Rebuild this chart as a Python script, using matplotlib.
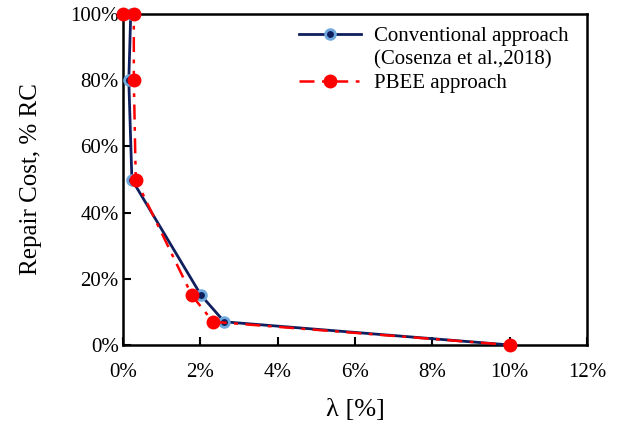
import matplotlib
matplotlib.use("Agg")
import matplotlib.pyplot as plt
from matplotlib.lines import Line2D
from matplotlib.ticker import PercentFormatter

# lambda [%] and repair cost [fraction of RC]
conv_lambda = [0.0, 0.20, 0.15, 0.23, 2.02, 2.62, 10.0]
conv_rc = [1.00, 1.00, 0.80, 0.50, 0.15, 0.07, 0.0]

pbee_lambda = [0.0, 0.28, 0.28, 0.33, 1.78, 2.33, 10.0]
pbee_rc = [1.00, 1.00, 0.80, 0.50, 0.15, 0.07, 0.0]

x_ticks = [0, 2, 4, 6, 8, 10, 12]
y_ticks = [0, 0.2, 0.4, 0.6, 0.8, 1.0]

plt.rcParams['font.family'] = ['Liberation Serif', 'DejaVu Serif']

fig = plt.figure(figsize=(6.34, 4.28), dpi=100)
ax = fig.add_axes([0.194, 0.194, 0.732, 0.773])

navy = '#0f1f5e'
ax.plot(conv_lambda, conv_rc, color=navy, lw=2, marker='o', ms=7,
        mfc=navy, mec='#6fa8dc', mew=2, clip_on=False, zorder=3,
        label='Conventional approach')
ax.plot(pbee_lambda, pbee_rc, color='red', lw=1.8, ls=(0, (6, 3, 1.5, 3)),
        marker='o', ms=9, mfc='red', mec='red', clip_on=False, zorder=4,
        label='PBEE approach')

ax.set_xlim(0, 12)
ax.set_ylim(0, 1)
ax.set_xticks(x_ticks)
ax.set_yticks(y_ticks)
ax.xaxis.set_major_formatter(PercentFormatter(100, decimals=0))
ax.yaxis.set_major_formatter(PercentFormatter(1, decimals=0))
ax.tick_params(direction='in', length=6, width=1.5, labelsize=15)
ax.tick_params(axis='x', pad=13)
ax.tick_params(axis='y', pad=3)
for s in ax.spines.values():
    s.set_linewidth(1.8)

ax.set_xlabel('λ [%]', fontsize=19, labelpad=12)
ax.set_ylabel('Repair Cost, % RC', fontsize=18, labelpad=20)

h, l = ax.get_legend_handles_labels()
blank = Line2D([], [], linestyle='none')
ax.legend([h[0], blank, h[1]],
          [l[0], '(Cosenza et al.,2018)', l[1]],
          loc='upper right', frameon=False, fontsize=15,
          handlelength=3.0, handletextpad=0.6, labelspacing=0.2,
          bbox_to_anchor=(1.0, 1.02))

fig.savefig('out.png', dpi=100)
